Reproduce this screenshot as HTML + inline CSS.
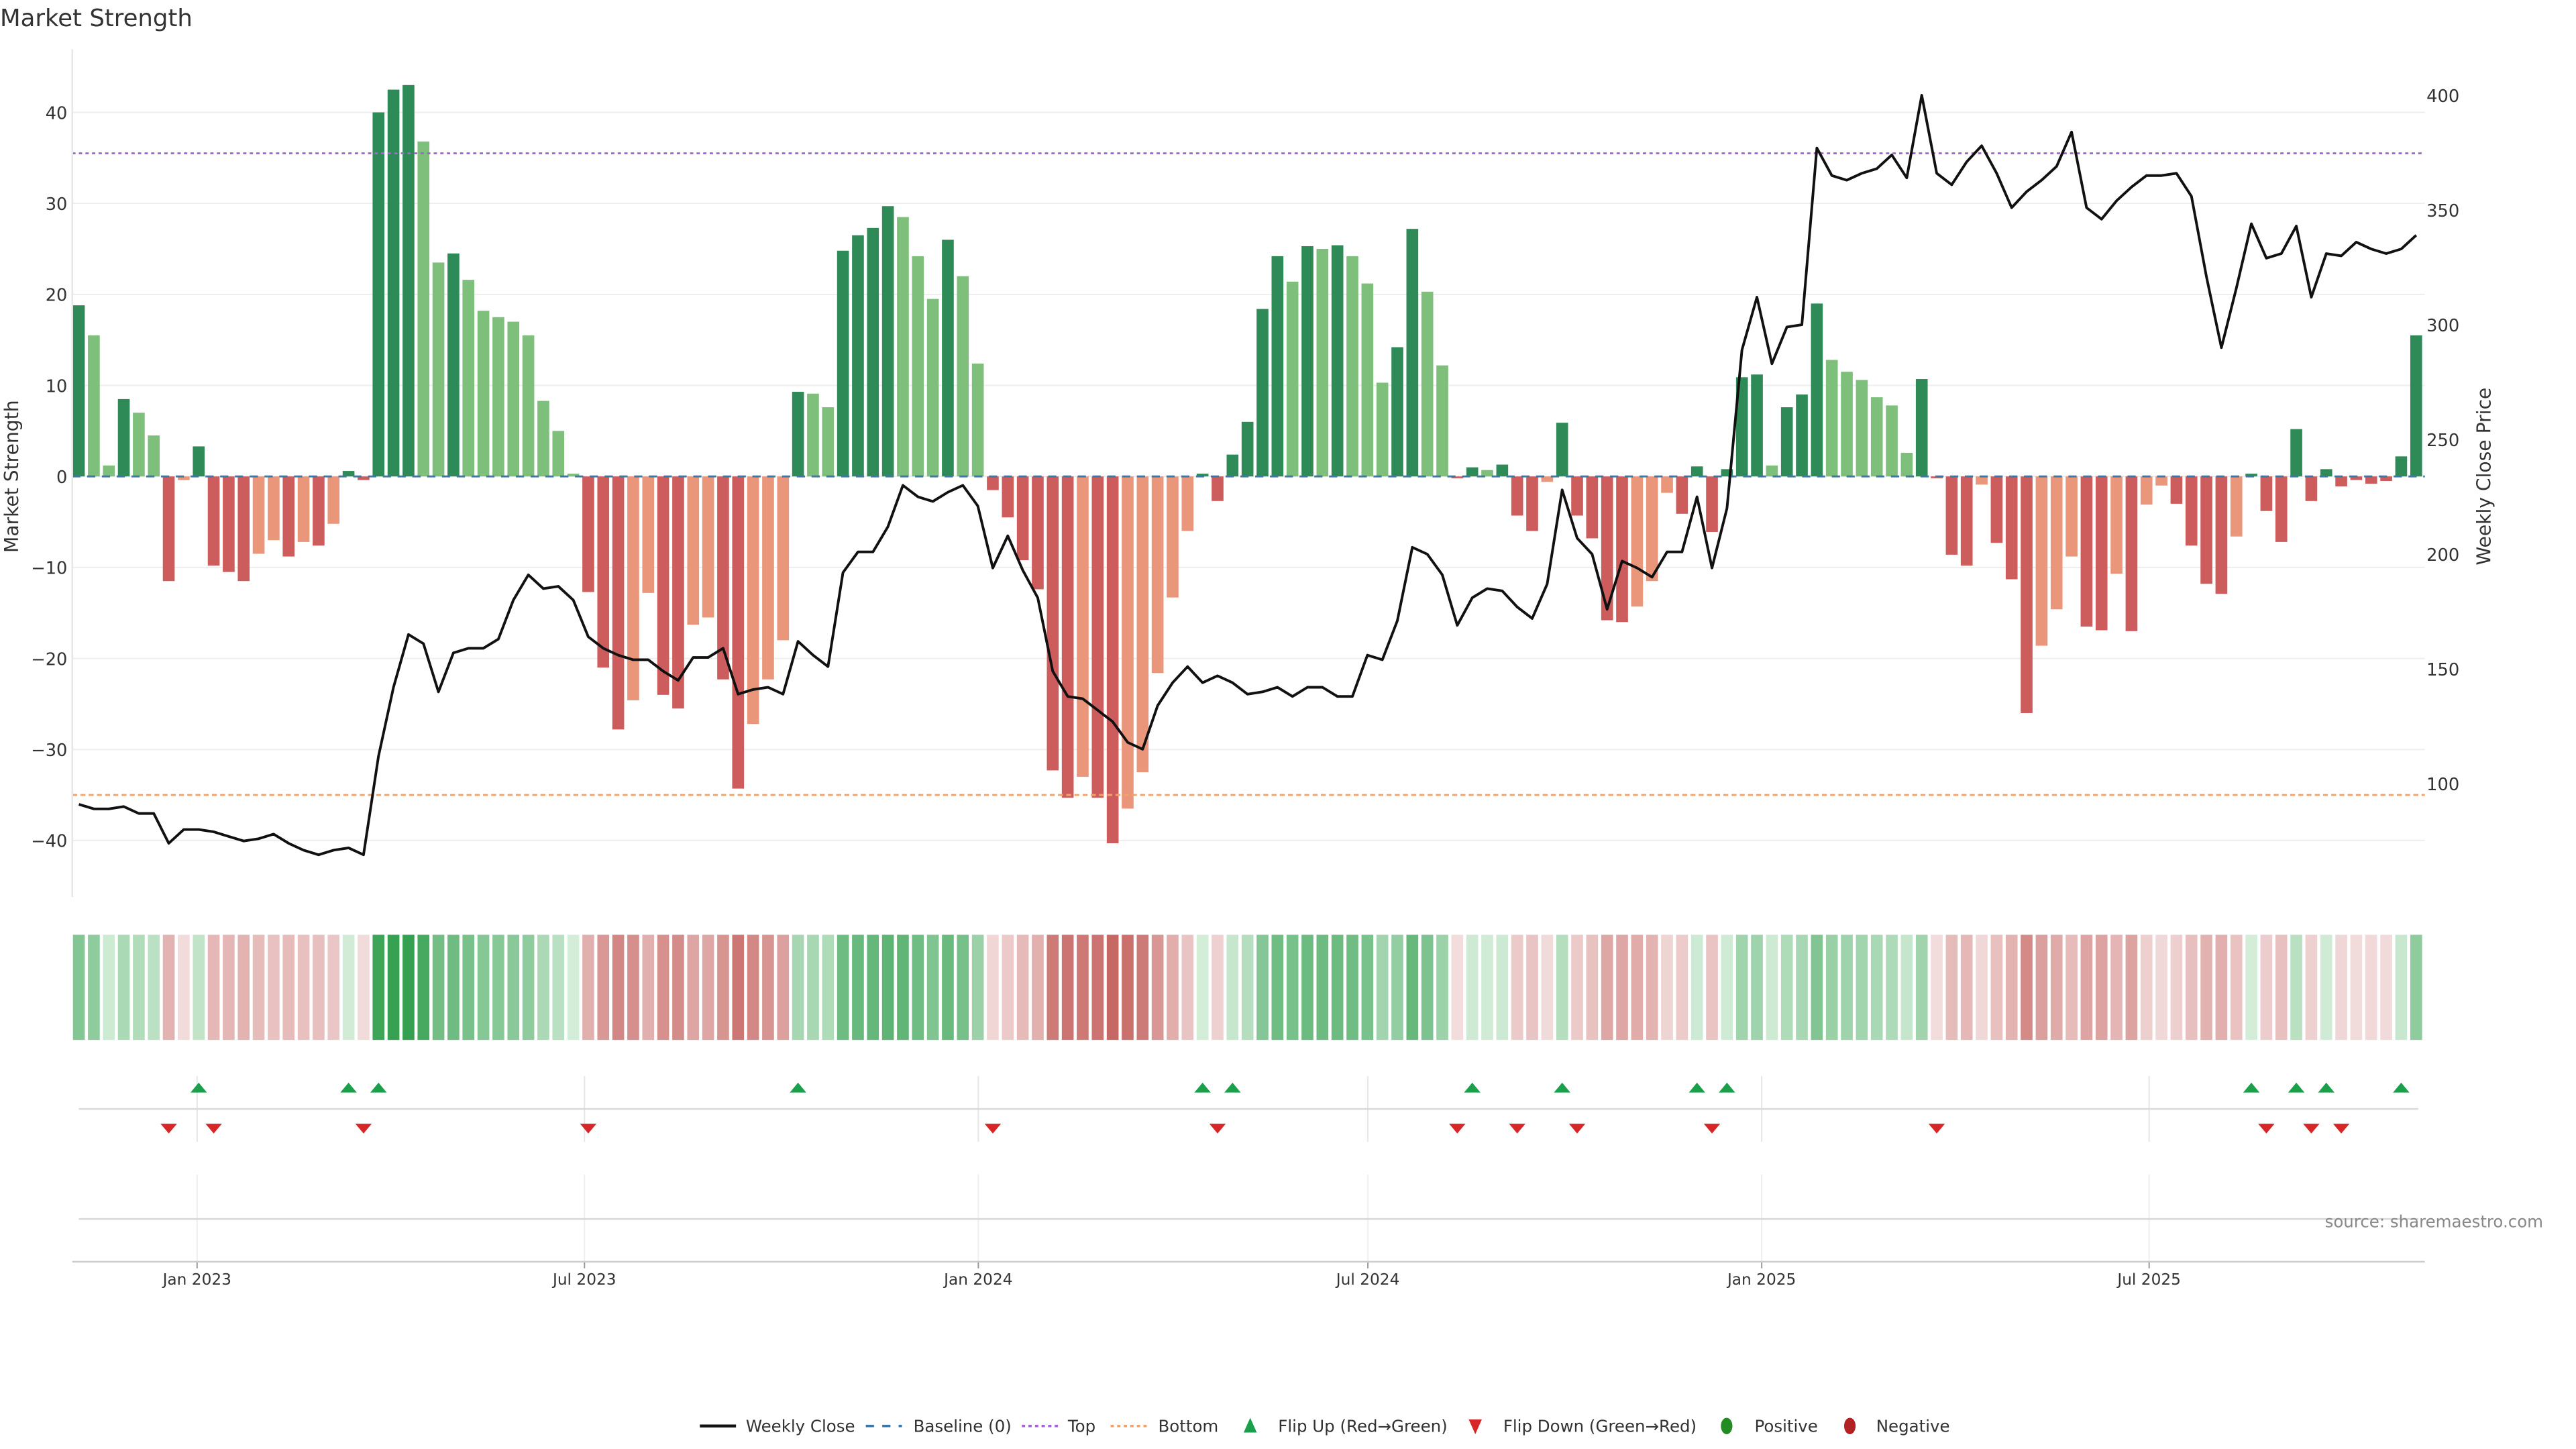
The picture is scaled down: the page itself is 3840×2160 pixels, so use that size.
<!DOCTYPE html>
<html><head><meta charset="utf-8"><style>
html,body{margin:0;padding:0;background:#fff}
svg{display:block;font-family:"DejaVu Sans","Liberation Sans",sans-serif}
</style></head><body>
<svg id="chart" width="3840" height="2160" viewBox="0 0 1568 882" xmlns="http://www.w3.org/2000/svg">
<text x="0" y="16" font-size="14.5" fill="#333">Market Strength</text>
<g id="grid"></g><g id="bars"></g><g id="lines"></g><g id="axes"></g><g id="heat"></g><g id="flips"></g>
<text x="1548" y="747" font-size="10" fill="#888" text-anchor="end">source: sharemaestro.com</text>
<text transform="translate(11,290) rotate(-90)" font-size="11.5" fill="#333" text-anchor="middle">Market Strength</text>
<text transform="translate(1516,290) rotate(-90)" font-size="11.5" fill="#333" text-anchor="middle">Weekly Close Price</text>
<g id="legend"></g>
</svg>
<script>
const strength=[18.8,15.5,1.2,8.5,7,4.5,-11.5,-0.4,3.3,-9.8,-10.5,-11.5,-8.5,-7,-8.8,-7.2,-7.6,-5.2,0.6,-0.4,40,42.5,43,36.8,23.5,24.5,21.6,18.2,17.5,17,15.5,8.3,5,0.3,-12.7,-21,-27.8,-24.6,-12.8,-24,-25.5,-16.3,-15.5,-22.3,-34.3,-27.2,-22.3,-18,9.3,9.1,7.6,24.8,26.5,27.3,29.7,28.5,24.2,19.5,26,22,12.4,-1.5,-4.5,-9.2,-12.4,-32.3,-35.3,-33,-35.3,-40.3,-36.5,-32.5,-21.6,-13.3,-6,0.3,-2.7,2.4,6,18.4,24.2,21.4,25.3,25,25.4,24.2,21.2,10.3,14.2,27.2,20.3,12.2,-0.2,1,0.7,1.3,-4.3,-6,-0.6,5.9,-4.3,-6.8,-15.8,-16,-14.3,-11.5,-1.8,-4.1,1.1,-6.1,0.8,10.9,11.2,1.2,7.6,9,19,12.8,11.5,10.6,8.7,7.8,2.6,10.7,-0.2,-8.6,-9.8,-0.9,-7.3,-11.3,-26,-18.6,-14.6,-8.8,-16.5,-16.9,-10.7,-17,-3.1,-1,-3,-7.6,-11.8,-12.9,-6.6,0.3,-3.8,-7.2,5.2,-2.7,0.8,-1.1,-0.4,-0.8,-0.5,2.2,15.5];
const strong=[1,0,0,1,0,0,1,0,1,1,1,1,0,0,1,0,1,0,1,1,1,1,1,0,0,1,0,0,0,0,0,0,0,0,1,1,1,0,0,1,1,0,0,1,1,0,0,0,1,0,0,1,1,1,1,0,0,0,1,0,0,1,1,1,1,1,1,0,1,1,0,0,0,0,0,1,1,1,1,1,1,0,1,0,1,0,0,0,1,1,0,0,1,1,0,1,1,1,0,1,1,1,1,1,0,0,0,1,1,1,1,1,1,0,1,1,1,0,0,0,0,0,0,1,1,1,1,0,1,1,1,0,0,0,1,1,0,1,0,0,1,1,1,1,0,1,1,1,1,1,1,1,1,1,1,1,1];
const prices=[91,89,89,90,87,87,74,80,80,79,77,75,76,78,74,71,69,71,72,69,112,142,165,161,140,157,159,159,163,180,191,185,186,180,164,159,156,154,154,149,145,155,155,159,139,141,142,139,162,156,151,192,201,201,212,230,225,223,227,230,221,194,208,193,181,149,138,137,132,127,118,115,134,144,151,144,147,144,139,140,142,138,142,142,138,138,156,154,171,203,200,191,169,181,185,184,177,172,187,228,207,200,176,197,194,190,201,201,225,194,220,289,312,283,299,300,377,365,363,366,368,374,364,400,366,361,371,378,366,351,358,363,369,384,351,346,354,360,365,365,366,356,321,290,316,344,329,331,343,312,331,330,336,333,331,333,339];
const leftTicks=[-40,-30,-20,-10,0,10,20,30,40];
const rightTicks=[100,150,200,250,300,350,400];
const dateTicks=["2023-01-01","2023-07-01","2024-01-01","2024-07-01","2025-01-01","2025-07-01"];
const dateLabels=["Jan 2023","Jul 2023","Jan 2024","Jul 2024","Jan 2025","Jul 2025"];
const topLevel=35.5, bottomLevel=-35;
const startDate="2022-11-06";

const NS="http://www.w3.org/2000/svg";
function mk(tag,attrs,parent){const e=document.createElementNS(NS,tag);for(const k in attrs)e.setAttribute(k,attrs[k]);parent.appendChild(e);return e;}
const L=44,R=1476,step=9.12,x0=48;
const xi=i=>x0+i*step;
const yS=v=>290-v*5.54;
const yP=p=>477-(p-100)*1.3967;
const xD=d=>x0+((new Date(d)-new Date(startDate))/86400000/7)*step;
const g=id=>document.getElementById(id);

leftTicks.forEach(t=>{
  const l=mk('line',{x1:L,x2:R,y1:yS(t),y2:yS(t),stroke:'#eeeeee','stroke-width':0.8},g('grid'));
  
  
  const tx=mk('text',{x:41,y:yS(t)+4,'font-size':10.5,fill:'#333','text-anchor':'end'},g('axes'));
  tx.textContent=t<0?'\u2212'+(-t):String(t);
  
  
});
rightTicks.forEach(t=>{
  const tx=mk('text',{x:1477,y:yP(t)+4,'font-size':10.5,fill:'#333'},g('axes'));
  tx.textContent=t;
  
  
});
mk('line',{x1:L,x2:L,y1:30,y2:546,stroke:'#e6e6e6','stroke-width':1},g('axes'));
strength.forEach((v,i)=>{
  const pos=v>=0;
  const col=pos?(strong[i]?'#2e8b57':'#7dbf7b'):(strong[i]?'#cd5c5c':'#e9967a');
  const y=Math.min(yS(v),yS(0)),h=Math.max(Math.abs(yS(v)-yS(0)),0.6);
  const r=mk('rect',{x:xi(i)-3.6,y:y,width:7.2,height:h,fill:col},g('bars'));
  
  
});
const bl=mk('line',{x1:L,x2:R,y1:yS(0),y2:yS(0),stroke:'#3b78a8','stroke-width':1.2,'stroke-dasharray':'5 4'},g('lines'));


const tl=mk('line',{x1:L,x2:R,y1:yS(topLevel),y2:yS(topLevel),stroke:'#a463d6','stroke-width':1.2,'stroke-dasharray':'2 2'},g('lines'));


const bt=mk('line',{x1:L,x2:R,y1:yS(bottomLevel),y2:yS(bottomLevel),stroke:'#f0a46c','stroke-width':1.2,'stroke-dasharray':'3 2'},g('lines'));


const pl=mk('polyline',{points:prices.map((p,i)=>xi(i)+','+yP(p)).join(' '),fill:'none',stroke:'#111','stroke-width':1.6,'stroke-linejoin':'round'},g('lines'));


function lerp(a,b,t){return a.map((c,k)=>Math.round(c+(b[k]-c)*t));}
strength.forEach((v,i)=>{
  const t=Math.min(Math.abs(v)/43,1);
  const c=v>=0?lerp([214,238,219],[52,160,80],Math.pow(t,0.8)):lerp([243,222,222],[196,98,94],Math.pow(t,0.8));
  const r=mk('rect',{x:xi(i)-3.6,y:569,width:7.2,height:64,fill:'rgb('+c.join(',')+')'},g('heat'));
  
  
});
dateTicks.forEach((d,k)=>{
  const x=xD(d)-1;
  mk('line',{x1:x,x2:x,y1:655,y2:695,stroke:'#e6e6e6','stroke-width':0.8},g('flips'));
  mk('line',{x1:x,x2:x,y1:715,y2:768,stroke:'#eeeeee','stroke-width':0.8},g('flips'));
  mk('line',{x1:x,x2:x,y1:768,y2:772,stroke:'#999','stroke-width':0.8},g('flips'));
  const tx=mk('text',{x:x,y:782,'font-size':9.5,fill:'#333','text-anchor':'middle'},g('axes'));
  tx.textContent=dateLabels[k];
  
  
});
mk('line',{x1:48,x2:1472,y1:675,y2:675,stroke:'#d8d8d8','stroke-width':1},g('flips'));
mk('line',{x1:48,x2:1472,y1:742,y2:742,stroke:'#d8d8d8','stroke-width':1},g('flips'));
mk('line',{x1:L,x2:R,y1:768,y2:768,stroke:'#cccccc','stroke-width':1},g('flips'));
for(let i=1;i<strength.length;i++){
  const a=strength[i-1]>=0,b=strength[i]>=0;
  if(a===b)continue;
  const x=xi(i);
  if(b){
    const p=mk('polygon',{points:(x-5)+',665 '+(x+5)+',665 '+x+',659',fill:'#1aa04a'},g('flips'));
    
    
  }else{
    const p=mk('polygon',{points:(x-5)+',684 '+(x+5)+',684 '+x+',690',fill:'#d62728'},g('flips'));
    
    
  }
}
const lg=g('legend');const ly=868;
function item(name,lx,tx,draw,label){const gg=mk('g',{},lg);draw(gg,lx);const t=mk('text',{x:tx,y:ly+3.5,'font-size':10,fill:'#333'},gg);t.textContent=label;}
item('legend-weekly-close',426,454,(p,x)=>mk('line',{x1:x,x2:x+22,y1:ly,y2:ly,stroke:'#111','stroke-width':1.8},p),'Weekly Close');
item('legend-baseline',527,556,(p,x)=>mk('line',{x1:x,x2:x+22,y1:ly,y2:ly,stroke:'#3b78a8','stroke-width':1.5,'stroke-dasharray':'5 5'},p),'Baseline (0)');
item('legend-top',622,650,(p,x)=>mk('line',{x1:x,x2:x+22,y1:ly,y2:ly,stroke:'#a463d6','stroke-width':1.5,'stroke-dasharray':'2 2'},p),'Top');
item('legend-bottom',676,705,(p,x)=>mk('line',{x1:x,x2:x+22,y1:ly,y2:ly,stroke:'#f0a46c','stroke-width':1.5,'stroke-dasharray':'2 2'},p),'Bottom');
item('legend-flip-up',761,778,(p,x)=>mk('polygon',{points:(x-4)+','+(ly+4)+' '+(x+4)+','+(ly+4)+' '+x+','+(ly-5),fill:'#1aa04a'},p),'Flip Up (Red→Green)');
item('legend-flip-down',898,915,(p,x)=>mk('polygon',{points:(x-4)+','+(ly-4)+' '+(x+4)+','+(ly-4)+' '+x+','+(ly+5),fill:'#d62728'},p),'Flip Down (Green→Red)');
item('legend-positive',1051,1068,(p,x)=>mk('ellipse',{cx:x,cy:ly,rx:3.5,ry:5,fill:'#228b22'},p),'Positive');
item('legend-negative',1126,1142,(p,x)=>mk('ellipse',{cx:x,cy:ly,rx:3.5,ry:5,fill:'#b22222'},p),'Negative');
</script>
</body></html>
